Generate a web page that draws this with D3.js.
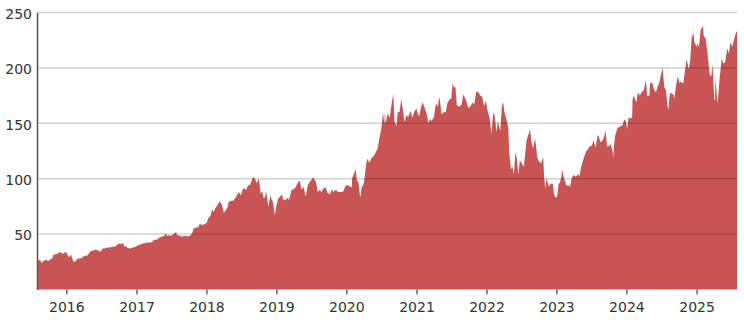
<!DOCTYPE html>
<html>
<head>
<meta charset="utf-8">
<script src="https://cdn.jsdelivr.net/npm/d3@7"></script>
<style>
    body { margin: 0; background: #fff; }
    #price-area text { font-family: "DejaVu Sans", Verdana, sans-serif; }
</style>
</head>
<body>
<div id="price-area"></div>
<script>
// closing prices, one small array per year
var p2015 = [["2015-08-01",26.8],["2015-08-10",26.3],["2015-08-19",26.5],["2015-08-25",23.6],["2015-09-01",25.5],["2015-09-10",26.2],["2015-09-18",27.0],["2015-09-28",25.5],["2015-10-08",27.0],["2015-10-20",28.0],["2015-10-23",31.0],["2015-11-02",31.5],["2015-11-13",32.0],["2015-11-20",33.0],["2015-12-01",33.8],["2015-12-10",32.5],["2015-12-18",32.5],["2015-12-29",34.0]];
var p2016 = [["2016-01-06",31.5],["2016-01-15",29.0],["2016-01-28",31.5],["2016-01-29",29.3],["2016-02-09",24.5],["2016-02-19",26.0],["2016-03-01",28.0],["2016-03-10",28.0],["2016-03-22",28.5],["2016-04-01",30.0],["2016-04-12",30.5],["2016-04-22",31.0],["2016-04-29",33.0],["2016-05-10",35.0],["2016-05-20",35.0],["2016-06-01",36.0],["2016-06-13",35.5],["2016-06-27",34.0],["2016-07-08",37.0],["2016-07-20",37.0],["2016-08-01",38.0],["2016-08-15",38.0],["2016-09-01",38.5],["2016-09-15",39.0],["2016-09-30",41.5],["2016-10-14",41.0],["2016-10-25",42.0],["2016-10-28",38.8],["2016-11-08",39.0],["2016-11-16",37.5],["2016-12-01",37.0],["2016-12-15",38.0],["2016-12-28",38.5]];
var p2017 = [["2017-01-10",40.0],["2017-01-20",40.5],["2017-02-01",41.5],["2017-02-10",41.5],["2017-02-24",42.5],["2017-03-08",42.5],["2017-03-20",42.5],["2017-04-03",45.0],["2017-04-17",45.0],["2017-04-28",46.5],["2017-05-10",47.5],["2017-05-22",48.0],["2017-06-05",50.5],["2017-06-09",48.0],["2017-06-16",49.0],["2017-06-30",48.5],["2017-07-14",50.0],["2017-07-27",52.0],["2017-07-31",49.3],["2017-08-10",49.0],["2017-08-25",47.5],["2017-09-08",48.5],["2017-09-20",48.0],["2017-10-02",48.0],["2017-10-16",50.0],["2017-10-27",55.0],["2017-11-08",56.0],["2017-11-20",56.5],["2017-11-28",59.5],["2017-12-08",58.0],["2017-12-20",59.0]];
var p2018 = [["2018-01-02",60.0],["2018-01-12",65.0],["2018-01-22",66.5],["2018-01-31",72.5],["2018-02-08",70.0],["2018-02-16",73.0],["2018-02-27",76.0],["2018-03-12",79.5],["2018-03-22",77.0],["2018-04-02",69.0],["2018-04-13",72.0],["2018-04-23",75.0],["2018-04-27",79.0],["2018-05-10",80.0],["2018-05-22",80.0],["2018-06-05",84.0],["2018-06-19",88.0],["2018-06-29",85.0],["2018-07-12",91.5],["2018-07-27",90.0],["2018-08-08",94.5],["2018-08-15",94.0],["2018-08-30",100.5],["2018-09-04",101.5],["2018-09-12",99.5],["2018-09-21",96.0],["2018-10-01",100.5],["2018-10-11",86.5],["2018-10-19",89.0],["2018-10-26",82.5],["2018-11-02",83.0],["2018-11-08",89.0],["2018-11-20",75.0],["2018-11-30",84.5],["2018-12-07",81.5],["2018-12-14",79.0],["2018-12-24",67.0],["2018-12-31",75.0]];
var p2019 = [["2019-01-10",82.0],["2019-01-18",83.5],["2019-01-31",86.0],["2019-02-04",81.5],["2019-02-15",80.5],["2019-02-27",82.5],["2019-03-08",81.0],["2019-03-21",90.0],["2019-04-01",90.5],["2019-04-12",92.5],["2019-04-26",97.5],["2019-05-03",98.0],["2019-05-13",90.0],["2019-05-22",93.0],["2019-06-03",84.0],["2019-06-14",94.0],["2019-06-24",97.0],["2019-07-11",101.0],["2019-07-19",99.0],["2019-07-26",97.5],["2019-08-05",88.0],["2019-08-16",90.0],["2019-08-23",88.0],["2019-09-06",91.5],["2019-09-16",92.0],["2019-09-25",87.0],["2019-10-08",86.0],["2019-10-17",90.5],["2019-10-25",88.0],["2019-11-06",90.0],["2019-11-19",88.0],["2019-12-03",88.0],["2019-12-16",88.5],["2019-12-27",93.5]];
var p2020 = [["2020-01-08",94.5],["2020-01-17",93.0],["2020-01-30",92.5],["2020-01-31",100.5],["2020-02-07",103.5],["2020-02-19",108.5],["2020-02-25",98.0],["2020-03-04",97.0],["2020-03-12",84.0],["2020-03-16",84.5],["2020-03-20",92.0],["2020-04-01",95.5],["2020-04-14",114.5],["2020-04-20",118.0],["2020-05-01",114.5],["2020-05-11",119.0],["2020-05-21",120.0],["2020-06-01",123.5],["2020-06-12",127.0],["2020-06-23",138.0],["2020-07-01",144.5],["2020-07-10",160.0],["2020-07-17",149.0],["2020-07-20",160.5],["2020-07-24",150.0],["2020-08-04",159.0],["2020-08-14",155.0],["2020-08-26",170.0],["2020-09-02",176.5],["2020-09-08",152.0],["2020-09-18",147.0],["2020-09-25",160.0],["2020-10-05",160.5],["2020-10-13",172.0],["2020-10-23",161.0],["2020-10-30",151.0],["2020-11-09",157.0],["2020-11-19",156.0],["2020-12-01",161.0],["2020-12-10",155.0],["2020-12-22",161.0],["2020-12-31",163.0]];
var p2021 = [["2021-01-08",159.0],["2021-01-14",156.0],["2021-01-25",165.0],["2021-02-02",169.0],["2021-02-12",164.0],["2021-02-24",158.0],["2021-03-04",150.0],["2021-03-12",154.0],["2021-03-19",152.0],["2021-04-01",155.0],["2021-04-12",168.0],["2021-04-22",165.0],["2021-04-30",174.0],["2021-05-07",165.0],["2021-05-12",158.0],["2021-05-21",160.0],["2021-06-02",160.0],["2021-06-11",168.0],["2021-06-23",172.0],["2021-07-01",172.0],["2021-07-08",186.5],["2021-07-15",182.0],["2021-07-23",183.0],["2021-07-30",166.5],["2021-08-12",165.0],["2021-08-24",167.0],["2021-09-02",176.0],["2021-09-14",172.0],["2021-09-28",164.0],["2021-10-08",165.0],["2021-10-20",169.0],["2021-10-29",167.0],["2021-11-09",179.0],["2021-11-19",178.0],["2021-11-30",175.0],["2021-12-09",174.0],["2021-12-20",165.5],["2021-12-29",170.5]];
var p2022 = [["2022-01-07",161.0],["2022-01-18",154.0],["2022-01-27",140.0],["2022-02-04",157.5],["2022-02-10",160.0],["2022-02-23",142.0],["2022-03-01",152.0],["2022-03-14",143.0],["2022-03-22",165.0],["2022-03-29",169.0],["2022-04-06",159.0],["2022-04-14",154.0],["2022-04-25",146.0],["2022-04-29",124.5],["2022-05-09",108.5],["2022-05-16",111.0],["2022-05-24",104.0],["2022-06-01",124.0],["2022-06-09",117.5],["2022-06-16",103.5],["2022-06-24",116.5],["2022-07-05",114.0],["2022-07-14",110.5],["2022-07-22",122.0],["2022-07-29",134.5],["2022-08-08",140.0],["2022-08-16",144.5],["2022-08-24",133.0],["2022-09-01",127.5],["2022-09-12",136.5],["2022-09-23",119.0],["2022-10-03",115.0],["2022-10-13",114.0],["2022-10-24",119.5],["2022-10-28",103.5],["2022-11-04",90.5],["2022-11-10",100.5],["2022-11-22",93.0],["2022-12-01",95.5],["2022-12-13",95.5],["2022-12-20",85.5],["2022-12-28",83.0]];
var p2023 = [["2023-01-05",84.0],["2023-01-12",95.0],["2023-01-20",97.0],["2023-01-27",102.0],["2023-02-02",108.0],["2023-02-08",101.0],["2023-02-16",97.0],["2023-02-24",93.5],["2023-03-03",94.5],["2023-03-13",92.5],["2023-03-21",100.5],["2023-03-31",103.3],["2023-04-10",102.0],["2023-04-18",103.0],["2023-04-25",104.0],["2023-05-01",102.0],["2023-05-10",111.0],["2023-05-19",116.0],["2023-05-26",120.0],["2023-06-05",124.5],["2023-06-15",127.0],["2023-06-23",129.0],["2023-07-05",130.0],["2023-07-14",134.5],["2023-07-24",128.0],["2023-08-04",139.5],["2023-08-10",138.0],["2023-08-18",133.0],["2023-08-29",134.5],["2023-09-08",138.5],["2023-09-14",144.5],["2023-09-22",129.0],["2023-10-02",129.5],["2023-10-11",131.0],["2023-10-20",125.0],["2023-10-26",119.5],["2023-10-27",128.0],["2023-11-03",138.5],["2023-11-14",145.0],["2023-11-22",146.5],["2023-12-01",147.0],["2023-12-13",148.5],["2023-12-20",153.5],["2023-12-29",152.0]];
var p2024 = [["2024-01-05",145.0],["2024-01-12",155.0],["2024-01-22",154.5],["2024-01-31",155.0],["2024-02-02",171.8],["2024-02-09",175.0],["2024-02-21",168.5],["2024-03-01",178.0],["2024-03-11",175.0],["2024-03-21",178.0],["2024-04-01",180.0],["2024-04-11",189.0],["2024-04-19",174.5],["2024-04-30",175.0],["2024-05-03",186.0],["2024-05-14",187.0],["2024-05-24",180.5],["2024-06-03",178.0],["2024-06-12",183.5],["2024-06-20",186.0],["2024-06-28",193.0],["2024-07-08",200.0],["2024-07-16",183.0],["2024-07-25",180.0],["2024-08-02",167.0],["2024-08-07",162.0],["2024-08-15",177.5],["2024-08-23",177.0],["2024-09-03",176.0],["2024-09-06",171.5],["2024-09-16",184.0],["2024-09-25",192.5],["2024-10-04",186.5],["2024-10-14",187.5],["2024-10-24",186.0],["2024-11-01",197.5],["2024-11-11",208.0],["2024-11-21",198.5],["2024-11-29",207.0],["2024-12-06",227.0],["2024-12-16",232.0],["2024-12-20",224.0],["2024-12-31",219.0]];
var p2025 = [["2025-01-08",222.0],["2025-01-13",218.5],["2025-01-23",235.0],["2025-01-31",236.5],["2025-02-04",238.0],["2025-02-07",229.0],["2025-02-18",226.5],["2025-02-28",212.0],["2025-03-10",194.5],["2025-03-18",192.0],["2025-03-25",203.0],["2025-04-04",171.0],["2025-04-08",170.5],["2025-04-09",191.0],["2025-04-21",167.5],["2025-05-01",190.0],["2025-05-12",208.5],["2025-05-20",204.0],["2025-05-30",205.0],["2025-06-10",217.5],["2025-06-18",213.0],["2025-06-27",223.0],["2025-07-07",219.0],["2025-07-15",225.5],["2025-07-25",231.5],["2025-07-31",233.0]];

var yTickValues = [50, 100, 150, 200, 250];
var xTickYears = [2016, 2017, 2018, 2019, 2020, 2021, 2022, 2023, 2024, 2025];
var dateRange = ["2015-08-01", "2025-07-31"];

// set the dimensions and margins of the graph
var vMargin = { mTop: 12.5, mRight: 7, mBottom: 32.5, mLeft: 37 },
    vWidth = 744 - vMargin.mLeft - vMargin.mRight,
    vHeight = 322 - vMargin.mTop - vMargin.mBottom;

var parseDate = d3.timeParse("%Y-%m-%d");
var vData = [].concat(p2015, p2016, p2017, p2018, p2019, p2020, p2021, p2022, p2023, p2024, p2025)
    .map(function (d) { return { date: parseDate(d[0]), value: d[1] }; });

var svg = d3.select("#price-area")
    .append("svg")
    .attr("width", 744)
    .attr("height", 322)
    .append("g")
    .attr("transform", "translate(" + vMargin.mLeft + "," + vMargin.mTop + ")");

var x = d3.scaleTime()
    .domain(dateRange.map(parseDate))
    .range([0, vWidth]);

var y = d3.scaleLinear()
    .domain([0, 250])
    .range([vHeight, 0]);

// area
svg.append("path")
    .datum(vData)
    .attr("fill", "#c95454")
    .attr("d", d3.area()
        .x(function (d) { return x(d.date); })
        .y0(vHeight)
        .y1(function (d) { return y(d.value); }));

// gridlines on top of the area
svg.append("g")
    .selectAll("line")
    .data(yTickValues)
    .enter()
    .append("line")
    .attr("x1", 0)
    .attr("x2", vWidth)
    .attr("y1", function (d) { return y(d); })
    .attr("y2", function (d) { return y(d); })
    .attr("stroke", "rgba(0,0,0,0.18)")
    .attr("stroke-width", 1.5);

// y axis
var yAxis = svg.append("g")
    .call(d3.axisLeft(y).tickValues(yTickValues).tickSize(0).tickPadding(5));
yAxis.select(".domain").attr("stroke", "#555").attr("stroke-width", 1.5);
yAxis.selectAll("text")
    .attr("dy", "0.42em")
    .style("font-size", "14px")
    .attr("fill", "#333");

// x axis
var xAxis = svg.append("g")
    .attr("transform", "translate(0," + vHeight + ")")
    .call(d3.axisBottom(x)
        .tickValues(xTickYears.map(function (yr) { return new Date(yr, 0, 1); }))
        .tickFormat(d3.timeFormat("%Y"))
        .tickSize(5)
        .tickPadding(8));
xAxis.select(".domain").remove();
xAxis.selectAll("line").attr("stroke", "#444").attr("stroke-width", 1.2);
xAxis.selectAll("text")
    .style("font-size", "14px")
    .attr("fill", "#333");
</script>
</body>
</html>
